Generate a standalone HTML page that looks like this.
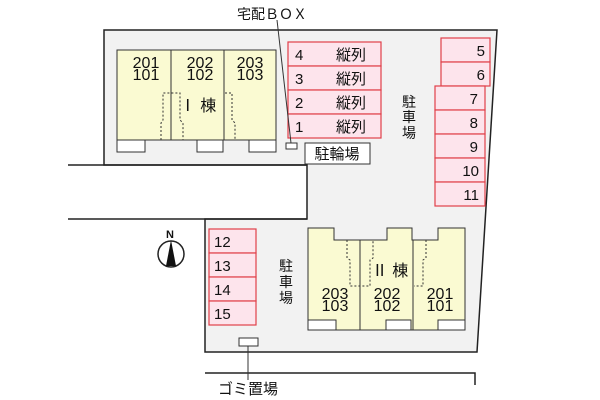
<!DOCTYPE html>
<html><head><meta charset="utf-8"><style>
html,body{margin:0;padding:0;background:#fff;}
svg{display:block}
text{font-family:"Liberation Sans","Noto Sans CJK JP",sans-serif;fill:#111;}
</style></head><body>
<svg width="600" height="400" viewBox="0 0 600 400" xmlns="http://www.w3.org/2000/svg">
<polygon points="104,30 497,30 477,352 205,352 205,219 307,219 307,165 104,165" fill="#f2f2f2" stroke="#222" stroke-width="1.5"/>
<line x1="68" y1="165" x2="307" y2="165" stroke="#222" stroke-width="1.5"/>
<line x1="68" y1="219" x2="307" y2="219" stroke="#222" stroke-width="1.5"/>
<polyline points="205,373 475,373 475,385" fill="none" stroke="#222" stroke-width="1.5"/>

<rect x="117" y="50" width="159" height="90" fill="#fafad2" stroke="#333" stroke-width="1"/>
<line x1="171" y1="50" x2="171" y2="140" stroke="#333"/>
<line x1="224" y1="50" x2="224" y2="140" stroke="#333"/>
<rect x="117" y="140" width="28" height="12" fill="#fff" stroke="#333"/>
<rect x="197" y="140" width="26" height="12" fill="#fff" stroke="#333"/>
<rect x="249" y="140" width="27" height="12" fill="#fff" stroke="#333"/>
<g fill="none" stroke="#333" stroke-dasharray="2,2">
<polyline points="161,140 161,123 163,120 163,93 180,93 180,120 183,123 183,140"/>
<polyline points="225,93 232,93 232,120 235,123 235,140"/>
</g>
<g font-size="16" text-anchor="middle">
<text x="146" y="68">201</text><text x="146" y="80">101</text>
<text x="200" y="68">202</text><text x="200" y="80">102</text>
<text x="250" y="68">203</text><text x="250" y="80">103</text>
</g>
<text x="198" y="111" font-size="16" text-anchor="middle">Ⅰ 棟</text>

<g fill="#fde4ec" stroke="#e0404a" stroke-width="1.2">
<rect x="288" y="42" width="93" height="24"/><rect x="288" y="66" width="93" height="24"/>
<rect x="288" y="90" width="93" height="24"/><rect x="288" y="114" width="93" height="24"/>
</g>
<g font-size="15">
<text x="295" y="60">4</text><text x="336" y="60">縦列</text>
<text x="295" y="84">3</text><text x="336" y="84">縦列</text>
<text x="295" y="108">2</text><text x="336" y="108">縦列</text>
<text x="295" y="132">1</text><text x="336" y="132">縦列</text>
</g>
<rect x="286" y="143" width="11" height="6" fill="#fff" stroke="#333"/>
<line x1="277" y1="20" x2="291" y2="143" stroke="#333"/>
<text x="237" y="19" font-size="14">宅配ＢＯＸ</text>
<rect x="305" y="143" width="65" height="21" fill="#fff" stroke="#333"/>
<text x="337" y="159" font-size="15" text-anchor="middle">駐輪場</text>

<g fill="#fde4ec" stroke="#e0404a" stroke-width="1.2">
<rect x="441" y="38" width="49" height="24"/><rect x="441" y="62" width="49" height="24"/>
<rect x="435" y="86" width="50" height="24"/><rect x="435" y="110" width="50" height="24"/>
<rect x="435" y="134" width="50" height="24"/><rect x="435" y="158" width="50" height="24"/>
<rect x="435" y="182" width="50" height="24"/>
</g>
<g font-size="15" text-anchor="end">
<text x="485" y="56">5</text><text x="485" y="80">6</text>
<text x="478" y="104">7</text><text x="478" y="128">8</text><text x="478" y="152">9</text>
<text x="479" y="176">10</text><text x="479" y="200">11</text>
</g>
<g font-size="14" text-anchor="middle">
<text x="409" y="107">駐</text><text x="409" y="122">車</text><text x="409" y="138">場</text>
</g>

<g fill="#fde4ec" stroke="#e0404a" stroke-width="1.2">
<rect x="209" y="229" width="47" height="24"/><rect x="209" y="253" width="47" height="24"/>
<rect x="209" y="277" width="47" height="24"/><rect x="209" y="301" width="47" height="24"/>
</g>
<g font-size="15">
<text x="214" y="247">12</text><text x="214" y="271">13</text><text x="214" y="295">14</text><text x="214" y="319">15</text>
</g>
<g font-size="14" text-anchor="middle">
<text x="286" y="271">駐</text><text x="286" y="287">車</text><text x="286" y="303">場</text>
</g>

<polygon points="308,228 334,228 334,240 387,240 387,228 412,228 412,240 438,240 438,228 465,228 465,330 308,330" fill="#fafad2" stroke="#333"/>
<line x1="360" y1="240" x2="360" y2="330" stroke="#333"/>
<line x1="413" y1="240" x2="413" y2="330" stroke="#333"/>
<rect x="308" y="320" width="28" height="10" fill="#fff" stroke="#333"/>
<rect x="386" y="320" width="25" height="10" fill="#fff" stroke="#333"/>
<rect x="438" y="320" width="27" height="10" fill="#fff" stroke="#333"/>
<g fill="none" stroke="#333" stroke-dasharray="2,2">
<polyline points="347,240 347,258 350,260 350,286 370,286 370,260 373,258 373,240"/>
<polyline points="426,240 426,258 423,260 423,286 414,286"/>
</g>
<text x="390" y="276" font-size="16" text-anchor="middle">Ⅱ 棟</text>
<g font-size="16" text-anchor="middle">
<text x="335" y="299">203</text><text x="335" y="311">103</text>
<text x="387" y="299">202</text><text x="387" y="311">102</text>
<text x="440" y="299">201</text><text x="440" y="311">101</text>
</g>

<circle cx="171" cy="254" r="13" fill="#fff" stroke="#222" stroke-width="1.5"/>
<polygon points="171,240 166,266 176,266" fill="#111"/>
<text x="170" y="238" font-size="11" text-anchor="middle" font-weight="bold">N</text>

<rect x="239" y="338" width="19" height="8" fill="#fff" stroke="#333"/>
<line x1="248" y1="346" x2="248" y2="380" stroke="#333"/>
<text x="218" y="394" font-size="15">ゴミ置場</text>
</svg>
</body></html>
